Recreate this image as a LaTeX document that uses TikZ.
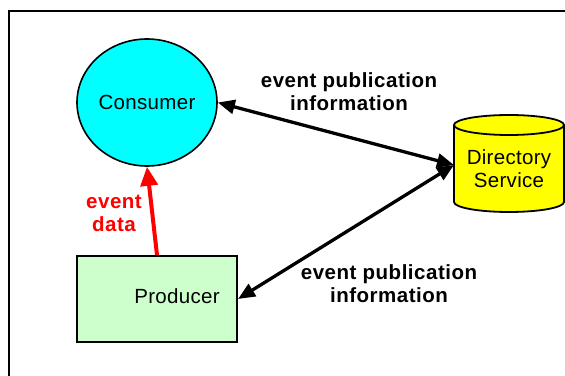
\documentclass[tikz,border=0pt]{standalone}
\usepackage{fontspec}
\setmainfont{Liberation Sans}
\usetikzlibrary{arrows.meta,shapes.geometric}
\definecolor{prodgreen}{RGB}{204,255,204}
\definecolor{conscyan}{RGB}{0,255,255}
\definecolor{diryellow}{RGB}{255,255,0}
\definecolor{datared}{RGB}{255,0,0}

\begin{document}
\begin{tikzpicture}[x=1pt,y=1pt,
  txt/.style={font=\fontsize{20.5}{23}\selectfont\addfontfeatures{LetterSpace=1.5}, align=center, inner sep=0pt},
  lbl/.style={font=\fontsize{20.5}{23}\selectfont\bfseries\addfontfeatures{LetterSpace=2.5}, align=center, inner sep=0pt},
  twoway/.style={{Triangle[length=17pt,width=14pt]}-{Triangle[length=17pt,width=14pt]}, line width=3.3pt},
  oneway/.style={-{Triangle[length=19pt,width=17pt]}, line width=4pt, datared}]
\useasboundingbox (0,0) rectangle (565,375);
\clip (0,0) rectangle (565,375);

% outer frame
\draw[line width=2pt] (9,364) rectangle (620,-30);

% consumer
\node[ellipse, draw, line width=1.6pt, fill=conscyan, minimum width=140pt,
      minimum height=127pt, inner sep=0pt, txt] (con) at (147,272.5) {Consumer};

% producer
\node[rectangle, draw, line width=2pt, fill=prodgreen, minimum width=160pt,
      minimum height=86pt, inner sep=0pt] (prod) at (157,76) {};
\node[txt] (prodtext) at (177,79) {Producer};

% directory service cylinder
\fill[diryellow] (454,250) -- (454,173)
  arc[start angle=180, end angle=360, x radius=55, y radius=10]
  -- (564,250) arc[start angle=0, end angle=180, x radius=55, y radius=10] -- cycle;
\draw[line width=1.8pt] (454,250) -- (454,173)
  arc[start angle=180, end angle=360, x radius=55, y radius=10] -- (564,250);
\draw[line width=1.8pt] (509,250) ellipse[x radius=55, y radius=10];
\node[txt] (dir) at (509,206) {Directory\\Service};
\coordinate (dirport) at (454,210);

% connectors
\draw[twoway] (con.east) -- (dirport);
\draw[twoway] (dirport) -- (prod.east);
\draw[oneway] (prod.north) -- (con.south);

% labels
\node[lbl] (toplbl) at (349,283) {event publication\\information};
\node[lbl] (botlbl) at (389,91) {event publication\\information};
\node[lbl, text=datared] (datalbl) at (114,162) {event\\data};
\end{tikzpicture}
\end{document}
